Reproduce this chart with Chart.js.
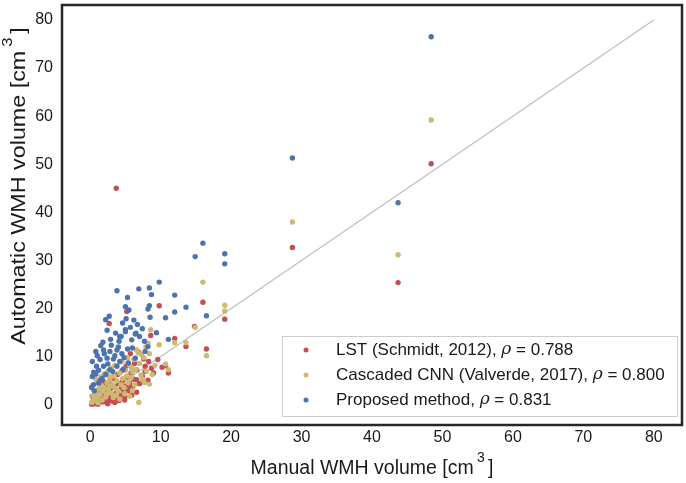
<!DOCTYPE html>
<html>
<head>
<meta charset="utf-8">
<script src="https://cdn.jsdelivr.net/npm/chart.js@4"></script>
<style>
  html, body { margin: 0; padding: 0; background: #fff; }
  #wrap { width: 686px; height: 483px; }
</style>
</head>
<body>
<div id="wrap"><canvas id="myChart"></canvas></div>
<script>
'use strict'

// values, [manual, automatic] in cm3
const lstPoints = [
  [48.4, 50.1], [28.7, 32.7], [43.7, 25.4], [3.7, 45.0], [9.8, 20.6], [16.0, 21.3], [19.1, 17.8],
  [2.7, 16.9], [5.2, 19.4], [8.6, 14.4], [12.0, 13.8], [13.6, 12.1], [16.5, 11.6], [14.8, 16.3],
  [5.7, 10.6], [6.9, 10.9], [8.3, 9.0], [8.7, 7.6], [10.7, 8.1], [11.1, 6.6], [7.8, 6.9],
  [6.6, 5.2], [5.7, 3.5], [4.9, 1.0], [3.3, 0.7], [2.4, 0.4],
  [0.2, 0.1], [0.4, 0.6], [0.6, 0.2], [0.8, 1.0], [1.0, 0.4], [1.2, 1.5], [1.4, 0.8], [1.6, 2.0],
  [1.8, 0.6], [2.0, 1.3], [2.2, 2.6], [2.4, 1.0], [2.6, 1.8], [2.8, 3.2], [3.0, 0.9], [3.2, 2.2],
  [3.4, 3.8], [3.6, 1.5], [3.8, 2.8], [4.0, 4.4], [4.2, 1.9], [4.4, 3.4], [4.6, 5.0], [4.8, 2.5],
  [5.0, 3.9], [5.2, 5.8], [5.4, 2.9], [5.6, 4.5], [5.8, 6.6], [6.0, 3.6], [6.2, 5.3], [6.6, 7.3],
  [7.0, 4.4], [7.4, 6.0], [7.8, 8.0], [8.2, 5.1], [9.0, 6.6], [9.6, 9.4], [10.2, 7.8], [0.3, 1.8],
  [0.9, 2.4], [1.5, 3.1], [2.1, 3.9], [2.7, 4.7], [3.3, 5.4], [3.9, 6.3], [4.5, 7.1], [5.1, 8.0],
  [1.1, 0.1], [2.5, 0.2], [3.5, 0.5], [4.1, 0.9], [4.9, 1.6], [5.9, 2.0], [6.6, 2.6], [0.5, 1.3],
  [1.9, 4.8], [7.6, 9.5], [6.3, 8.6]
]

const cnnPoints = [
  [48.4, 59.2], [28.7, 38.0], [43.7, 31.2], [16.0, 25.5], [19.1, 20.7], [19.1, 19.5], [14.9, 16.1],
  [8.6, 15.6], [9.8, 12.5], [13.6, 12.9], [12.0, 12.9], [16.5, 10.2], [10.7, 8.5], [11.1, 7.3],
  [7.7, 4.6], [8.4, 4.3], [6.9, 0.5], [8.2, 12.8], [7.3, 10.4], [6.6, 11.4], [5.4, 8.7], [5.9, 7.6],
  [0.2, 0.5], [0.4, 1.8], [0.6, 0.9], [0.8, 2.6], [1.0, 1.4], [1.2, 3.3], [1.4, 2.1], [1.6, 4.0],
  [1.8, 2.8], [2.0, 3.6], [2.2, 1.6], [2.4, 4.6], [2.6, 3.0], [2.8, 5.2], [3.0, 2.4], [3.2, 4.2],
  [3.4, 6.0], [3.6, 3.4], [3.8, 5.0], [4.0, 2.8], [4.2, 6.6], [4.4, 4.2], [4.6, 5.4], [4.8, 3.6],
  [5.0, 7.2], [5.2, 6.0], [5.4, 4.6], [5.6, 8.2], [5.8, 5.6], [6.0, 6.8], [6.2, 9.4], [6.5, 7.4],
  [7.0, 8.6], [7.2, 6.2], [7.6, 9.8], [8.0, 7.0], [8.4, 10.6], [1.0, 5.0], [1.5, 5.8], [2.0, 6.4],
  [2.5, 7.0], [3.0, 7.6], [0.5, 3.0], [0.3, 4.0], [2.3, 2.2], [3.3, 1.5], [4.2, 1.2], [1.1, 0.4],
  [0.9, 1.9], [1.7, 1.0], [2.9, 3.9], [3.7, 2.0], [4.9, 2.3], [6.3, 4.1], [6.8, 10.8], [7.9, 12.0],
  [4.5, 9.0], [3.5, 8.2], [5.3, 9.8], [2.7, 5.9], [1.3, 4.7], [0.7, 5.5], [6.0, 3.0], [5.6, 1.8],
  [7.4, 5.3], [8.8, 6.3], [9.2, 8.2]
]

const proposedPoints = [
  [48.4, 76.5], [28.7, 51.3], [43.7, 42.0], [16.0, 33.6], [14.9, 30.8], [19.1, 31.4], [19.1, 29.3],
  [9.8, 25.5], [3.8, 23.7], [6.9, 24.1], [8.4, 24.3], [8.7, 22.9], [5.3, 22.3], [12.0, 22.8],
  [5.0, 20.4], [5.5, 19.7], [8.4, 20.6], [8.2, 19.9], [13.6, 20.3], [12.0, 19.3], [2.7, 18.4],
  [2.2, 17.7], [5.1, 17.9], [8.5, 18.2], [10.7, 18.1], [16.5, 18.5], [7.4, 15.8], [6.7, 16.7],
  [5.7, 16.1], [5.0, 15.6], [6.4, 14.7], [7.0, 14.2], [4.2, 14.2], [2.9, 13.6], [11.1, 13.6],
  [8.2, 12.1], [0.8, 11.1], [6.5, 14.9], [5.0, 15.2], [4.4, 14.2], [4.1, 13.2], [5.9, 13.5],
  [1.9, 11.4], [2.8, 11.1], [3.8, 11.4], [4.5, 10.6], [5.3, 11.6], [1.4, 9.4], [2.4, 9.7],
  [3.3, 9.5], [4.2, 9.0], [0.9, 8.0], [1.9, 8.0], [2.8, 7.3], [3.8, 8.0], [4.7, 7.4], [0.3, 5.9],
  [0.8, 6.4], [1.7, 5.5], [0.5, 4.2], [1.2, 4.5], [7.8, 11.1], [6.4, 9.7], [5.4, 8.7],
  [0.5, 6.8], [1.0, 10.2], [1.5, 12.3], [2.0, 10.6], [2.5, 8.5], [3.0, 12.4], [3.5, 10.2],
  [4.0, 12.0], [1.2, 7.2], [2.2, 6.3], [3.2, 6.9], [0.3, 9.0], [1.8, 13.0], [4.8, 9.8], [6.0, 11.8],
  [3.6, 14.9], [2.4, 15.5], [6.2, 17.6], [4.6, 17.0], [7.7, 13.2], [9.4, 15.0], [0.2, 3.6],
  [0.6, 2.9], [1.4, 5.0]
]

const identityLine = [[0, 0], [80, 80]]

const xTicks = [0, 10, 20, 30, 40, 50, 60, 70, 80]
const yTicks = [0, 10, 20, 30, 40, 50, 60, 70, 80]

const xTitle = 'Manual WMH volume [cm'
const yTitle = 'Automatic WMH volume [cm'
const seriesNames = ['LST (Schmidt, 2012), ', 'Cascaded CNN (Valverde, 2017), ', 'Proposed method, ']
const rhoValues = ['0.788', '0.800', '0.831']
const seriesColors = ['#c44e52', '#ccb974', '#4c72b0']

const FONT = '"Liberation Sans", Arial, sans-serif'
const TEXT = '#1a1a1a'

const toXY = (arr) => arr.map((p) => ({ x: p[0], y: p[1] }))

// axis title with a raised "3" for cm^3
const drawTitle = (c, text, size) => {
  const supSize = Math.round(size * 0.7)
  c.font = size + 'px ' + FONT
  const w1 = c.measureText(text).width
  const w2 = c.measureText(' ').width * 0.6
  c.font = supSize + 'px ' + FONT
  const w3 = c.measureText('3').width
  c.font = size + 'px ' + FONT
  const w4 = c.measureText(']').width
  const total = w1 + w2 + w3 + w2 + w4
  let x = -total / 2
  c.fillStyle = TEXT
  c.textAlign = 'left'
  c.textBaseline = 'alphabetic'
  c.fillText(text, x, 0)
  x += w1 + w2
  c.font = supSize + 'px ' + FONT
  c.fillText('3', x, -size * 0.62)
  x += w3 + w2
  c.font = size + 'px ' + FONT
  c.fillText(']', x, 0)
}

const frameAndLegend = {
  id: 'frameAndLegend',
  afterDraw(chart) {
    const c = chart.ctx
    const a = chart.chartArea
    c.save()
    // axes frame
    c.strokeStyle = '#262626'
    c.lineWidth = 2.5
    c.strokeRect(a.left, a.top, a.right - a.left, a.bottom - a.top)

    // axis titles
    c.save()
    c.translate((a.left + a.right) / 2, 474)
    drawTitle(c, xTitle, 19.5)
    c.restore()

    c.save()
    c.translate(25, 186)
    c.rotate(-Math.PI / 2)
    c.scale(1.11, 1)
    drawTitle(c, yTitle, 21)
    c.restore()

    // legend box, lower right inside the plot
    const bx = 282, by = 336, bw = 395, bh = 80
    c.fillStyle = 'rgba(255,255,255,0.8)'
    c.fillRect(bx, by, bw, bh)
    c.strokeStyle = '#cccccc'
    c.lineWidth = 1
    c.strokeRect(bx + 0.5, by + 0.5, bw, bh)

    c.textAlign = 'left'
    c.textBaseline = 'middle'
    seriesNames.forEach((name, i) => {
      const yy = 350 + i * 25
      c.fillStyle = seriesColors[i]
      c.beginPath()
      c.arc(306, yy, 2.5, 0, Math.PI * 2)
      c.fill()

      c.fillStyle = TEXT
      let x = 336
      c.font = '17px ' + FONT
      c.fillText(name, x, yy)
      x += c.measureText(name).width
      c.font = 'italic 17px "DejaVu Serif", serif'
      c.fillText('\u03C1', x, yy)
      x += c.measureText('\u03C1').width
      c.font = '17px ' + FONT
      c.fillText(' = ' + rhoValues[i], x, yy)
    })
    c.restore()
  }
}

const ctx = document.getElementById('myChart')

const myChart = new Chart(ctx, {
  type: 'scatter',
  data: {
    datasets: [
      {
        type: 'line',
        label: 'identity',
        data: toXY(identityLine),
        borderColor: '#bfbfbf',
        borderWidth: 1.3,
        pointRadius: 0,
        fill: false,
        order: 3
      },
      {
        label: 'LST',
        data: toXY(lstPoints),
        backgroundColor: seriesColors[0],
        pointRadius: 2.7,
        borderWidth: 0,
        order: 2
      },
      {
        label: 'Cascaded CNN',
        data: toXY(cnnPoints),
        backgroundColor: seriesColors[1],
        pointRadius: 2.7,
        borderWidth: 0,
        order: 1
      },
      {
        label: 'Proposed',
        data: toXY(proposedPoints),
        backgroundColor: seriesColors[2],
        pointRadius: 2.7,
        borderWidth: 0,
        order: 0
      }
    ]
  },
  options: {
    responsive: true,
    maintainAspectRatio: false,
    animation: false,
    events: [],
    layout: { padding: { left: 0, right: 2, top: 5, bottom: 0 } },
    plugins: {
      legend: { display: false },
      tooltip: { enabled: false }
    },
    scales: {
      x: {
        type: 'linear',
        min: -4,
        max: 84,
        grid: { display: false, drawTicks: false },
        border: { display: false },
        afterBuildTicks: (axis) => { axis.ticks = xTicks.map((v) => ({ value: v })) },
        afterFit: (axis) => {
          axis.height = 58
          axis.paddingLeft = 0
          axis.paddingRight = 0
        },
        ticks: {
          padding: 3,
          color: TEXT,
          font: { family: FONT, size: 16 }
        }
      },
      y: {
        type: 'linear',
        min: -4.2,
        max: 83.1,
        grid: { display: false, drawTicks: false },
        border: { display: false },
        afterBuildTicks: (axis) => { axis.ticks = yTicks.map((v) => ({ value: v })) },
        afterFit: (axis) => {
          axis.width = 62
          axis.paddingTop = 0
          axis.paddingBottom = 0
        },
        ticks: {
          padding: 9,
          color: TEXT,
          font: { family: FONT, size: 16 }
        }
      }
    }
  },
  plugins: [frameAndLegend]
})
</script>
</body>
</html>
